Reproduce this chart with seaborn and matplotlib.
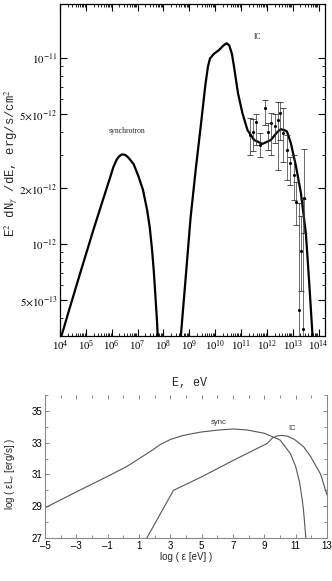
import numpy as np
import pandas as pd
import matplotlib
matplotlib.use("Agg")
import matplotlib.pyplot as plt
import matplotlib.ticker as mticker
import seaborn as sns

# ---------------- data: top panel (log10 E [eV], log10 E^2 dN/dE) ----------------
sync_logE = [4.0, 4.39, 4.78, 5.29, 5.68, 5.90, 6.07, 6.20, 6.30, 6.40, 6.52, 6.62, 6.72,
             6.85, 7.04, 7.21, 7.37, 7.47, 7.56, 7.63, 7.69, 7.75, 7.80]
sync_logF = [-12.52, -12.337, -12.157, -11.925, -11.755, -11.66, -11.585, -11.545, -11.528,
             -11.519, -11.522, -11.533, -11.549, -11.572, -11.639, -11.71, -11.818, -11.91,
             -12.03, -12.15, -12.28, -12.41, -12.55]

ic_logE = [8.64, 8.85, 9.05, 9.25, 9.45, 9.62, 9.72, 9.80, 9.95, 10.15, 10.34, 10.45, 10.55,
           10.65, 10.73, 10.885, 11.056, 11.25, 11.51, 11.83, 12.155, 12.40, 12.54, 12.70,
           12.78, 12.93, 13.13, 13.32, 13.51, 13.64, 13.77, 13.80]
ic_logF = [-12.55, -12.20, -11.86, -11.60, -11.36, -11.15, -11.05, -11.005, -10.98, -10.959,
           -10.932, -10.923, -10.935, -10.98, -11.048, -11.191, -11.298, -11.388, -11.442,
           -11.463, -11.442, -11.40, -11.384, -11.39, -11.397, -11.459, -11.585, -11.728,
           -11.943, -12.21, -12.498, -12.56]

obs_logE = [11.35, 11.48, 11.60, 11.75, 11.93, 12.03, 12.16, 12.30, 12.42, 12.52, 12.64,
            12.78, 12.91, 13.04, 13.13, 13.25, 13.32, 13.39, 13.45]
obs_logF = [-11.415, -11.400, -11.345, -11.469, -11.268, -11.397, -11.352, -11.367, -11.334,
            -11.298, -11.406, -11.495, -11.567, -11.630, -11.773, -12.354, -12.04, -12.458,
            -11.755]
obs_logLo = [-11.522, -11.500, -11.470, -11.531, -11.360, -11.495, -11.522, -11.460, -11.603,
             -11.442, -11.560, -11.656, -11.683, -11.764, -11.90, -12.60, -12.25, -12.60,
             -11.94]
obs_logHi = [-11.325, -11.330, -11.300, -11.406, -11.227, -11.352, -11.298, -11.300, -11.236,
             -11.236, -11.272, -11.415, -11.531, -11.522, -11.67, -11.78, -11.85, -11.76,
             -11.492]

top_ytick_vals = [5e-13, 1e-12, 2e-12, 5e-12, 1e-11]
top_ytick_labels = [r"$5{\times}10^{-13}$", r"$10^{-12}$", r"$2{\times}10^{-12}$",
                    r"$5{\times}10^{-12}$", r"$10^{-11}$"]

# ---------------- data: bottom panel (log eps [eV], log eps L_eps [erg/s]) ----------------
b_sync_x = [-5, -3, -0.84, 0.22, 1.0, 1.8, 2.36, 3.0, 3.8, 4.9, 6.0, 7.0, 7.9, 9.0, 10.0,
            10.67, 11.0, 11.25, 11.42, 11.5, 11.65]
b_sync_y = [28.9, 29.9, 30.96, 31.5, 31.99, 32.5, 32.88, 33.2, 33.45, 33.66, 33.79, 33.86,
            33.8, 33.59, 33.17, 32.3, 31.5, 30.5, 29.4, 28.76, 27.0]
b_ic_x = [1.5, 3.2, 4.9, 7.05, 9.18, 9.5, 9.8, 10.1, 10.5, 10.9, 11.5, 11.97, 12.6, 13.0]
b_ic_y = [27.0, 30.0, 30.8, 31.9, 32.95, 33.28, 33.42, 33.46, 33.4, 33.22, 32.75, 32.1, 31.0, 29.7]

# ---------------- style ----------------
sns.set_style("ticks")
plt.rcParams["font.family"] = ["Liberation Serif", "DejaVu Serif"]
plt.rcParams["mathtext.fontset"] = "stix"

fig = plt.figure(figsize=(3.32, 5.81), dpi=100)

# ================= top panel =================
ax = fig.add_axes([60/332, (581-336)/581, 265/332, 332/581])
ax.set_xscale("log")
ax.set_yscale("log")

df_s = pd.DataFrame({"E": 10**np.array(sync_logE), "F": 10**np.array(sync_logF)})
df_i = pd.DataFrame({"E": 10**np.array(ic_logE), "F": 10**np.array(ic_logF)})
sns.lineplot(data=df_s, x="E", y="F", sort=False, estimator=None, color="black", lw=1.6, ax=ax)
sns.lineplot(data=df_i, x="E", y="F", sort=False, estimator=None, color="black", lw=1.6, ax=ax)

oE = 10**np.array(obs_logE)
oF = 10**np.array(obs_logF)
oLo = 10**np.array(obs_logLo)
oHi = 10**np.array(obs_logHi)
ax.errorbar(oE, oF, yerr=[oF - oLo, oHi - oF], fmt="none", ecolor="#333333",
            elinewidth=0.5, capsize=2.2, capthick=0.6, zorder=2)
df_o = pd.DataFrame({"E": oE, "F": oF})
sns.scatterplot(data=df_o, x="E", y="F", color="black", s=5, linewidth=0, ax=ax, zorder=3)

ax.set_xlim(1e4, 10**14.25)
ax.set_ylim(10**-12.494, 10**-10.712)

ax.xaxis.set_major_locator(mticker.LogLocator(base=10, numticks=20))
ax.xaxis.set_minor_locator(mticker.LogLocator(base=10, subs=np.arange(2, 10), numticks=20))
ax.xaxis.set_major_formatter(mticker.LogFormatterSciNotation())
ax.xaxis.set_minor_formatter(mticker.NullFormatter())
ax.yaxis.set_major_locator(mticker.FixedLocator(top_ytick_vals))
ax.yaxis.set_major_formatter(mticker.FixedFormatter(top_ytick_labels))
ax.yaxis.set_minor_locator(mticker.LogLocator(base=10, subs=np.arange(2, 10), numticks=20))
ax.yaxis.set_minor_formatter(mticker.NullFormatter())

ax.tick_params(which="both", direction="in", top=True, right=True, colors="black",
               labelsize=7.8, pad=2)
ax.tick_params(which="major", length=5, width=0.8)
ax.tick_params(which="minor", length=2.5, width=0.6)
for sp in ax.spines.values():
    sp.set_color("black")
    sp.set_linewidth(0.9)

ax.set_xlabel("E, eV", fontsize=8.5, family=["Liberation Mono", "DejaVu Sans Mono"])
ax.xaxis.set_label_coords(0.49, -0.124)
ax.set_ylabel(r"E$^2$ dN$_\gamma$ /dE, erg/s/cm$^2$", fontsize=8.8,
              family=["Liberation Mono", "DejaVu Sans Mono"])
ax.yaxis.set_label_coords(-0.148, 0.52)
ax.text(10**6.59, 10**-11.392, "synchrotron", ha="center", va="center", fontsize=5.5)
ax.text(10**11.63, 10**-10.89, "IC", ha="center", va="center", fontsize=5.5)

# ================= bottom panel =================
bx = fig.add_axes([45/332, (581-538)/581, 282/332, 143/581])
df_bs = pd.DataFrame({"x": b_sync_x, "y": b_sync_y})
df_bi = pd.DataFrame({"x": b_ic_x, "y": b_ic_y})
sns.lineplot(data=df_bs, x="x", y="y", sort=False, estimator=None, color="#555555", lw=0.8, ax=bx)
sns.lineplot(data=df_bi, x="x", y="y", sort=False, estimator=None, color="#555555", lw=0.8, ax=bx)
bx.set_xlim(-5, 13)
bx.set_ylim(27, 36)
bx.xaxis.set_minor_locator(mticker.MultipleLocator(1))
bx.yaxis.set_major_locator(mticker.FixedLocator([27, 29, 31, 33, 35]))
bx.yaxis.set_minor_locator(mticker.MultipleLocator(1))
bx.set_xticks([-5, -3, -1, 1, 3, 5, 7, 9, 11, 13])
bx.xaxis.set_major_formatter(mticker.FuncFormatter(lambda v, p: f"{int(round(v))}".replace("-", "\u2013")))
bx.tick_params(which="both", direction="in", top=True, right=True, colors="#777777",
               labelcolor="black", labelsize=7, pad=2, width=0.6)
bx.tick_params(which="major", length=3)
bx.tick_params(which="minor", length=2.5)
for lab in bx.get_xticklabels() + bx.get_yticklabels():
    lab.set_family(["Liberation Sans", "DejaVu Sans"])
bx.spines["top"].set_visible(False)
for s in ["left", "right", "bottom"]:
    bx.spines[s].set_color("#888888")
    bx.spines[s].set_linewidth(0.8)
bx.set_xlabel(r"log ( ε [eV] )", fontsize=7, family=["Liberation Sans", "DejaVu Sans"], labelpad=1)
bx.set_ylabel(r"log ( εL$_ε$ [erg/s] )", fontsize=7, family=["Liberation Sans", "DejaVu Sans"])
bx.yaxis.set_label_coords(-0.1, 0.45)
bx.text(6.1, 34.24, "sync", fontsize=5.5, ha="center", va="center", color="#333333",
        family=["Liberation Sans", "DejaVu Sans"])
bx.text(10.8, 33.9, "IC", fontsize=5.5, ha="center", va="center", color="#333333",
        family=["Liberation Sans", "DejaVu Sans"])

fig.savefig("out.png", dpi=100)
